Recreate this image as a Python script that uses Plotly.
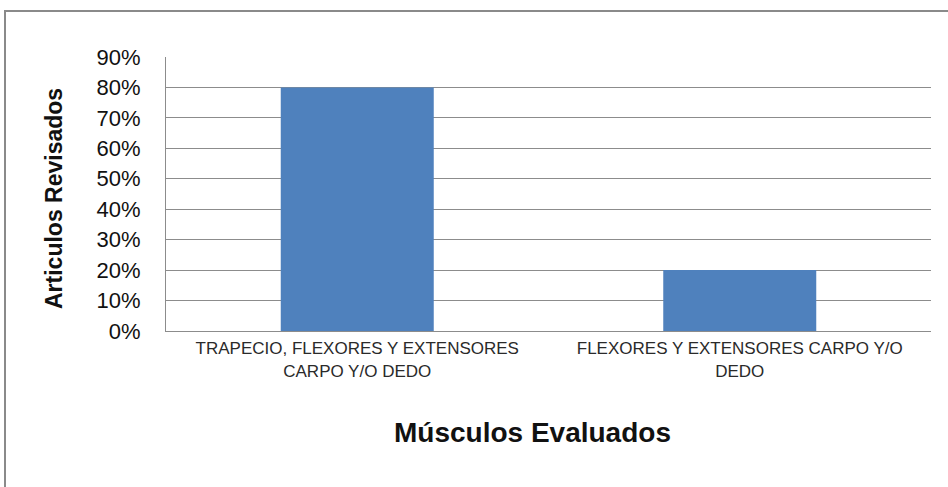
import plotly.graph_objects as go

# Share of reviewed articles per evaluated muscle group
categories = [
    "TRAPECIO, FLEXORES Y EXTENSORES<br>CARPO Y/O DEDO",
    "FLEXORES Y EXTENSORES CARPO Y/O<br>DEDO",
]
values = [0.80, 0.20]
y_ticks = [0, 0.1, 0.2, 0.3, 0.4, 0.5, 0.6, 0.7, 0.8, 0.9]
y_tick_labels = ["0%", "10%", "20%", "30%", "40%", "50%", "60%", "70%", "80%", "90%"]

W, H = 948, 487
L, R, T, B = 166, 17, 57, 156
pw, ph = W - L - R, H - T - B

def px_to_paper_x(px):
    return (px - L) / pw

def px_to_paper_y(py):
    return (H - B - py) / ph

grid = "#8c8c8c"

fig = go.Figure(
    go.Bar(
        x=categories,
        y=values,
        marker=dict(color="#4F81BD", line=dict(width=0)),
        width=0.4,
    )
)

fig.update_layout(
    width=W,
    height=H,
    margin=dict(l=L, r=R, t=T, b=B),
    paper_bgcolor="white",
    plot_bgcolor="white",
    showlegend=False,
    font=dict(family="Liberation Sans, Arial, sans-serif", color="#1a1a1a"),
    xaxis=dict(
        showgrid=False,
        showline=True,
        linecolor=grid,
        linewidth=1,
        ticks="",
        ticklabelstandoff=2,
        tickfont=dict(size=17, color="#2a2a2a"),
        range=[-0.5, 1.5],
        fixedrange=True,
    ),
    yaxis=dict(
        range=[0, 0.9],
        tickvals=y_ticks,
        ticktext=y_tick_labels,
        showgrid=True,
        gridcolor=grid,
        gridwidth=1,
        showline=True,
        linecolor=grid,
        linewidth=1,
        zeroline=False,
        ticks="",
        ticklabelstandoff=20,
        tickfont=dict(size=22, color="#111111"),
        fixedrange=True,
    ),
    annotations=[
        dict(
            text="<b>Articulos Revisados</b>",
            xref="paper", yref="paper",
            x=px_to_paper_x(54), y=px_to_paper_y(199),
            xanchor="center", yanchor="middle",
            textangle=-90, showarrow=False,
            font=dict(size=23, color="#111111"),
        ),
        dict(
            text="<b>Músculos Evaluados</b>",
            xref="paper", yref="paper",
            x=px_to_paper_x(532), y=px_to_paper_y(432),
            xanchor="center", yanchor="middle",
            showarrow=False,
            font=dict(size=28, color="#111111"),
        ),
    ],
    shapes=[
        # chart frame (top and left edges)
        dict(
            type="path",
            xref="paper", yref="paper",
            path=(
                f"M {px_to_paper_x(5)} {px_to_paper_y(500)} "
                f"L {px_to_paper_x(5)} {px_to_paper_y(11)} "
                f"L {px_to_paper_x(960)} {px_to_paper_y(11)}"
            ),
            line=dict(color="#8a8a8a", width=2),
        ),
    ],
)

fig.write_html("out.html")
